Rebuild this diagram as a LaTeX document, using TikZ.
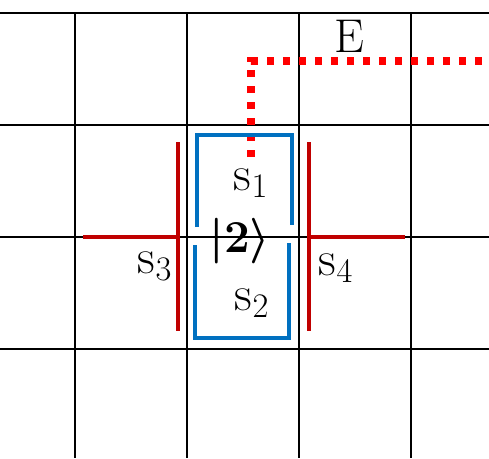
\RequirePackage{fix-cm}
\documentclass[tikz,border=0pt]{standalone}
\usepackage{amsmath}
\usepackage{tikz}
\definecolor{kblue}{HTML}{0070C0}
\definecolor{wallred}{HTML}{C00000}

\begin{document}
\begin{tikzpicture}[x=0.02cm, y=-0.02cm,
      gridline/.style={line width=1.2pt, black},
      bracket/.style={line width=2.4pt, color=kblue},
      wall/.style={line width=2.4pt, color=wallred},
      epath/.style={line width=4pt, color=red, dash pattern=on 3.9pt off 5.2pt},
      lbl/.style={anchor=base, inner sep=0pt, font=\fontsize{28}{31}\selectfont}
    ]
      \useasboundingbox (0,0) rectangle (489,458);
      % lattice
      \foreach \x in {75,187,299,411} \draw[gridline] (\x,13) -- (\x,458);
      \foreach \y in {13,125,237,349} \draw[gridline] (0,\y) -- (489,\y);
      % walls s3, s4
      \draw[wall] (178,142) -- (178,331);
      \draw[wall] (83,237) -- (178,237);
      \draw[wall] (309,142) -- (309,331);
      \draw[wall] (309,237) -- (405,237);
      % string E
      \draw[epath] (251,157) -- (251,61) -- (489,61);
      % s1 and s2
      \draw[bracket] (197,227) -- (197,135) -- (292,135) -- (292,225);
      \draw[bracket] (195,245) -- (195,338) -- (289,338) -- (289,243);
      % labels
      \node[lbl, font=\fontsize{27}{30}\selectfont] (lE) at (349,52) {E};
      \node[lbl] (ls1) at (251,190) {$\mathrm{s}_1$};
      \node[lbl] (ls2) at (252,310) {$\mathrm{s}_2$};
      \node[lbl] (ls3) at (155,273) {$\mathrm{s}_3$};
      \node[lbl] (ls4) at (336,275) {$\mathrm{s}_4$};
      \node[inner sep=0pt, font=\fontsize{26}{29}\selectfont] (ket) at (240,241) {{\boldmath$|\mathbf{2}\rangle$}};
    \end{tikzpicture}
\end{document}
